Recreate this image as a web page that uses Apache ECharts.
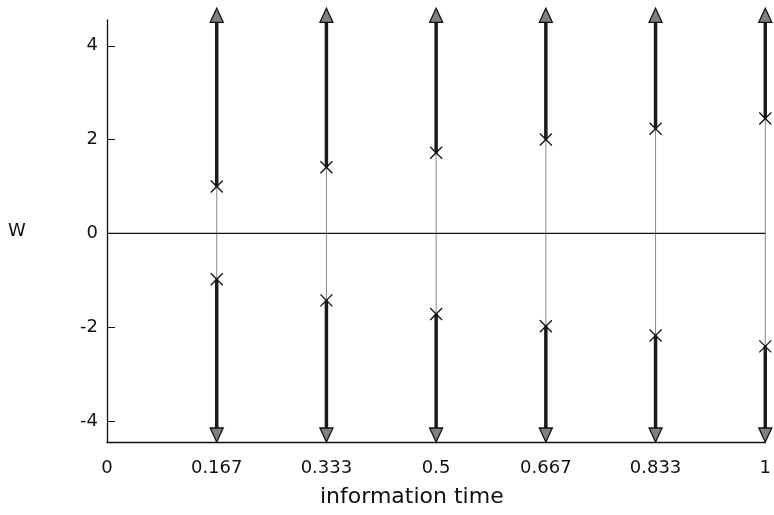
<!DOCTYPE html>
<html>
<head>
<meta charset="utf-8">
<script src="https://cdn.jsdelivr.net/npm/echarts@6/dist/echarts.min.js"></script>
<style>html,body{margin:0;padding:0;background:#fff;}#c{width:774px;height:515px;}</style>
</head>
<body>
<div id="c"></div>
<script>
// information times (x positions of the analyses)
var times = [1/6, 2/6, 3/6, 4/6, 5/6, 1];
// upper and lower boundary values of W
var upper = [1.00, 1.41, 1.72, 2.00, 2.23, 2.45];
var lower = [-0.98, -1.43, -1.72, -1.98, -2.18, -2.41];
// tick values and labels
var xTickVals = [0, 1/6, 2/6, 3/6, 4/6, 5/6, 1];
var xTickLabels = ['0', '0.167', '0.333', '0.5', '0.667', '0.833', '1'];
var yTickVals = [-4, -2, 0, 2, 4];
var yTickLabels = ['-4', '-2', '0', '2', '4'];
var yMin = -4.45, yMax = 4.55;
var arrowTop = 4.8, arrowBottom = -4.45;

var FONT = 'DejaVu Sans';
var chart = echarts.init(document.getElementById('c'), null, {renderer: 'canvas'});

var boundData = times.map(function (t, i) { return [t, lower[i], upper[i]]; });

function renderItem(params, api) {
  var x = api.value(0), lo = api.value(1), up = api.value(2);
  var pUp = api.coord([x, up]);
  var pLo = api.coord([x, lo]);
  var pTop = api.coord([x, arrowTop]);
  var pBot = api.coord([x, arrowBottom]);
  var hh = 14, hw = 6.5, m = 6;
  var shaft = {stroke: '#1a1a1a', lineWidth: 3.5};
  var head = {fill: '#808080', stroke: '#111', lineWidth: 1.3};
  var cross = {stroke: '#111', lineWidth: 1.3};
  return {
    type: 'group',
    children: [
      {type: 'line', shape: {x1: pLo[0], y1: pLo[1], x2: pUp[0], y2: pUp[1]},
       style: {stroke: '#8a8a8a', lineWidth: 1}},
      {type: 'line', shape: {x1: pUp[0], y1: pUp[1], x2: pTop[0], y2: pTop[1] + hh - 2}, style: shaft},
      {type: 'polygon', shape: {points: [[pTop[0], pTop[1]], [pTop[0] - hw, pTop[1] + hh], [pTop[0] + hw, pTop[1] + hh]]}, style: head},
      {type: 'line', shape: {x1: pLo[0], y1: pLo[1], x2: pBot[0], y2: pBot[1] - hh + 2}, style: shaft},
      {type: 'polygon', shape: {points: [[pBot[0], pBot[1]], [pBot[0] - hw, pBot[1] - hh], [pBot[0] + hw, pBot[1] - hh]]}, style: head},
      {type: 'line', shape: {x1: pUp[0] - m, y1: pUp[1] - m, x2: pUp[0] + m, y2: pUp[1] + m}, style: cross},
      {type: 'line', shape: {x1: pUp[0] - m, y1: pUp[1] + m, x2: pUp[0] + m, y2: pUp[1] - m}, style: cross},
      {type: 'line', shape: {x1: pLo[0] - m, y1: pLo[1] - m, x2: pLo[0] + m, y2: pLo[1] + m}, style: cross},
      {type: 'line', shape: {x1: pLo[0] - m, y1: pLo[1] + m, x2: pLo[0] + m, y2: pLo[1] - m}, style: cross}
    ]
  };
}

function lookup(vals, labels, v) {
  var best = 0;
  for (var i = 1; i < vals.length; i++) if (Math.abs(vals[i] - v) < Math.abs(vals[best] - v)) best = i;
  return labels[best];
}

chart.setOption({
  animation: false,
  backgroundColor: '#fff',
  grid: {left: 107, right: 5, top: 20, bottom: 73, containLabel: false},
  xAxis: {
    type: 'value', min: 0, max: 1,
    axisLine: {show: true, onZero: false, lineStyle: {color: '#111', width: 1.3}},
    axisTick: {show: true, inside: true, length: 5, customValues: xTickVals, lineStyle: {color: '#111'}},
    axisLabel: {customValues: xTickVals, margin: 17, color: '#111', fontFamily: FONT, fontSize: 18,
      formatter: function (v) { return lookup(xTickVals, xTickLabels, v); }},
    splitLine: {show: false}
  },
  yAxis: {
    type: 'value', min: yMin, max: yMax,
    axisLine: {show: true, onZero: false, lineStyle: {color: '#111', width: 1.3}},
    axisTick: {show: true, inside: true, length: 8, customValues: yTickVals, lineStyle: {color: '#111'}},
    axisLabel: {customValues: yTickVals, margin: 9, color: '#111', fontFamily: FONT, fontSize: 18,
      formatter: function (v) { return lookup(yTickVals, yTickLabels, v); }},
    splitLine: {show: false},
    name: 'W', nameLocation: 'middle', nameRotate: 0, nameGap: 90,
    nameTextStyle: {color: '#111', fontFamily: FONT, fontSize: 18, align: 'center', verticalAlign: 'middle'}
  },
  graphic: [{
    type: 'text', left: 320, top: 486,
    style: {text: 'information time', fill: '#111', font: '22px "DejaVu Sans"'}
  }],
  series: [
    {type: 'line', data: [[0, 0], [1, 0]], symbol: 'none', silent: true,
     lineStyle: {color: '#111', width: 1.3}},
    {type: 'custom', data: boundData, renderItem: renderItem, clip: false, silent: true}
  ]
});
</script>
</body>
</html>
